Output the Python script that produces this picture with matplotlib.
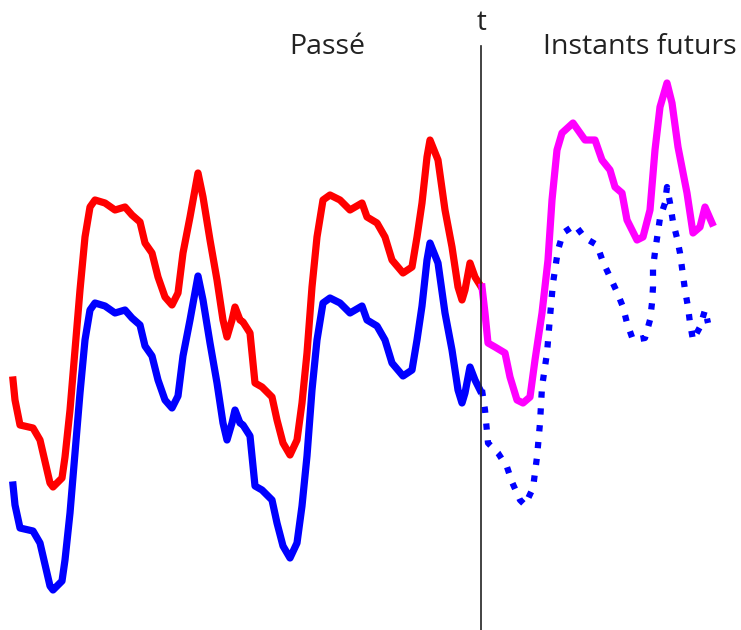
import matplotlib
matplotlib.use("Agg")
import matplotlib.pyplot as plt

# valeurs (coordonnées en pixels, y vers le bas)
past_x = [13, 15, 20, 33, 40, 50, 53, 62, 65, 70, 75, 80, 85, 90, 95, 105, 115,
          125, 132, 140, 145, 152, 158, 165, 172, 178, 183, 190, 198, 203, 210,
          217, 223, 227, 232, 235, 240, 243, 250, 255, 262, 272, 277, 283, 290,
          297, 302, 307, 312, 317, 323, 330, 340, 350, 362, 367, 377, 385, 392,
          403, 412, 417, 422, 427, 430, 438, 445, 452, 458, 462, 465, 470, 475,
          480]
red_past = [380, 400, 425, 428, 440, 483, 487, 478, 457, 410, 350, 290, 237, 207,
            200, 203, 210, 207, 215, 222, 243, 253, 277, 297, 305, 293, 253, 217,
            173, 197, 240, 280, 320, 337, 320, 307, 320, 322, 333, 383, 387, 397,
            420, 443, 455, 440, 403, 353, 287, 237, 200, 195, 200, 210, 203, 217,
            223, 237, 260, 273, 267, 237, 203, 157, 140, 160, 210, 247, 287, 300,
            290, 263, 277, 285]
blue_past = [485, 505, 528, 531, 543, 586, 590, 581, 560, 513, 453, 393, 340, 310,
             303, 306, 313, 310, 318, 325, 346, 356, 380, 400, 408, 396, 356, 320,
             276, 300, 343, 383, 423, 440, 423, 410, 423, 425, 436, 486, 490, 500,
             523, 546, 558, 543, 506, 456, 390, 340, 303, 298, 303, 313, 306, 320,
             326, 340, 363, 376, 370, 340, 306, 260, 243, 263, 313, 350, 390, 403,
             393, 367, 380, 390]

fut_x = [482, 485, 488, 495, 505, 510, 517, 523, 530, 535, 542, 548, 552, 557,
         562, 573, 585, 595, 602, 610, 615, 622, 627, 637, 643, 650, 655, 660,
         667, 672, 678, 687, 693, 700, 705, 712]
magenta_fut = [287, 313, 343, 347, 353, 377, 400, 403, 397, 360, 313, 260, 200,
               150, 133, 123, 140, 140, 160, 170, 187, 193, 220, 240, 237, 210,
               150, 107, 83, 103, 147, 193, 233, 227, 207, 223]

dot_x = [482, 485, 488, 498, 507, 512, 520, 525, 533, 537, 540, 542, 547, 550,
         553, 558, 563, 575, 585, 597, 603, 610, 617, 623, 627, 633, 645, 650,
         652, 653, 653, 655, 660, 665, 667, 670, 673, 677, 680, 685, 688, 690,
         693, 700, 705, 708]
blue_fut = [390, 410, 443, 453, 467, 482, 500, 505, 488, 457, 423, 387, 353, 317,
            283, 250, 233, 225, 238, 245, 262, 277, 292, 307, 323, 340, 338, 320,
            303, 287, 268, 252, 218, 203, 187, 203, 222, 238, 253, 290, 307, 323,
            340, 327, 310, 323]

t_x = 481

fig = plt.figure(figsize=(7.41, 6.30), dpi=100)
ax = fig.add_axes([0, 0, 1, 1])
ax.set_xlim(0, 741)
ax.set_ylim(630, 0)
ax.axis("off")

ax.plot(past_x, red_past, color="#ff0000", lw=5.2, solid_joinstyle="round")
ax.plot(past_x, blue_past, color="#0000ff", lw=5.2, solid_joinstyle="round")
ax.plot(fut_x, magenta_fut, color="#ff00ff", lw=5.2, solid_joinstyle="round")
ax.plot(dot_x, blue_fut, color="#0000ff", lw=4.5, linestyle=(0, (1, 1.7)),
        dash_capstyle="butt")

ax.plot([t_x, t_x], [46, 630], color="#222222", lw=1.2)

font = ["Open Sans", "DejaVu Sans"]
ax.text(t_x + 1, 30, "t", family=font, fontsize=20, color="#222222",
        ha="center", va="baseline")
ax.text(327, 54, "Passé", family=font, fontsize=20.5, color="#222222",
        ha="center", va="baseline")
ax.text(640, 54, "Instants futurs", family=font, fontsize=20.5, color="#222222",
        ha="center", va="baseline")

fig.savefig("out.png", dpi=100)
